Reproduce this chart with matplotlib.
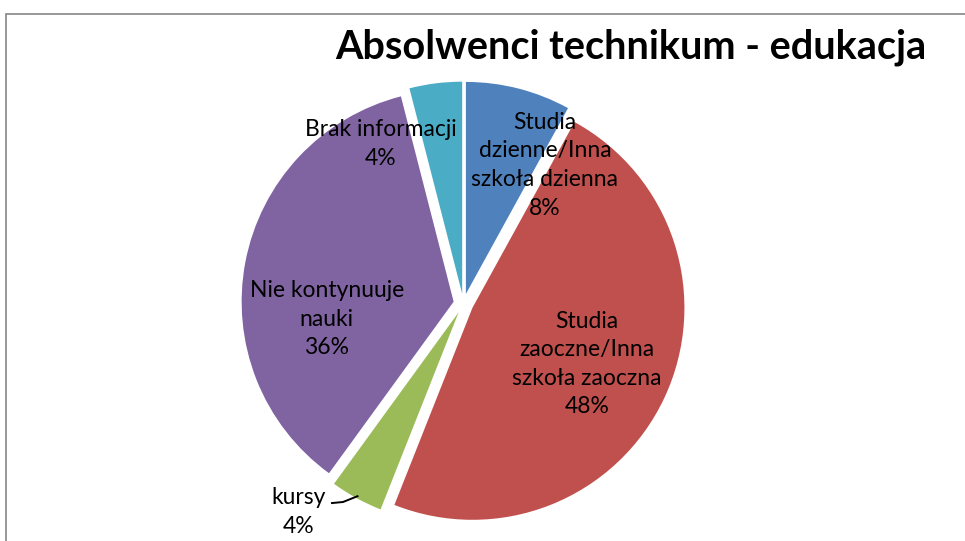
import numpy as np
import matplotlib.pyplot as plt
from matplotlib.patches import Rectangle

# Data
categories = ['Studia\ndzienne/Inna\nszkoła dzienna', 'Studia\nzaoczne/Inna\nszkoła zaoczna',
              'kursy', 'Nie kontynuuje\nnauki', 'Brak informacji']
shares = [8, 48, 4, 36, 4]
colors = ['#4F81BD', '#C0504D', '#9BBB59', '#8064A2', '#4BACC6']
title = 'Absolwenci technikum - edukacja'

# label anchor points (data units, pie radius = 1)
label_xy = [(0.384, 0.653), (0.582, -0.285), (-0.776, -0.983), (-0.645, -0.073), (-0.389, 0.752)]

plt.rcParams['font.family'] = ['Lato', 'DejaVu Sans']

fig = plt.figure(figsize=(9.65, 5.41), dpi=100)
ax = fig.add_axes([0, 0, 1, 1])

wedges, _ = ax.pie(shares, colors=colors, startangle=90, counterclock=False,
                   explode=[0.047] * len(shares), radius=1.0,
                   wedgeprops=dict(linewidth=0))
ax.set_aspect('auto')
ax.set_xlim(-2.186, 2.366)
ax.set_ylim(-1.120, 1.432)
ax.axis('off')

for i, (cat, val) in enumerate(zip(categories, shares)):
    x, y = label_xy[i]
    ax.text(x, y, f'{cat}\n{val}%', ha='center', va='center', fontsize=16.5,
            linespacing=1.45, color='black')

# leader line for the small "kursy" slice
w = wedges[2]
mid = np.deg2rad((w.theta1 + w.theta2) / 2)
cx, cy = w.center
ex, ey = cx + np.cos(mid) * 0.99, cy + np.sin(mid) * 0.99
ax.plot([-0.620, -0.568, ex], [-0.941, -0.936, ey], color='black', lw=1.4)

fig.text(0.6535, 0.913, title, ha='center', va='center', fontsize=28.5,
         fontweight='bold')

# chart frame
fig.add_artist(Rectangle((5.5 / 965, -0.1), 1.2, 1.1 - 13.5 / 541,
                         transform=fig.transFigure, fill=False,
                         edgecolor='#868686', lw=1.2))

fig.savefig('out.png', dpi=100)
